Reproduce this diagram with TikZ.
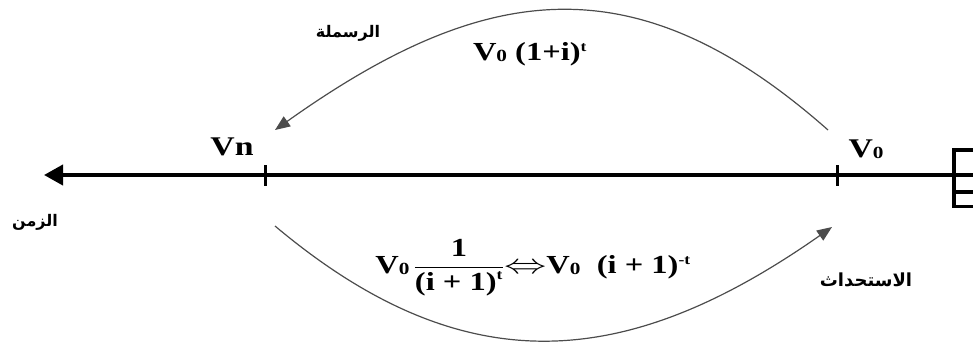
\documentclass[tikz,border=0pt]{standalone}
\usepackage{fontspec}
\setmainfont[FakeStretch=1.25]{Liberation Serif}
\newfontfamily\arabicfont[Script=Arabic]{DejaVu Sans}
\TeXXeTstate=1
\usetikzlibrary{arrows.meta}
\newcommand\zsub{\raisebox{-1pt}{\fontsize{17}{17}\selectfont\bfseries 0}}
\newcommand\supt[1]{$^{\mbox{\fontsize{14}{14}\selectfont\bfseries #1}}$}
\newcommand\dblarrow{\scalebox{1.7}[1.1]{$\Leftrightarrow$}}
\begin{document}
\begin{tikzpicture}[x=1pt,y=-1pt,
  lbl/.style={inner sep=0pt,font=\fontsize{27}{30}\selectfont\bfseries},
  frm/.style={inner sep=0pt,font=\fontsize{26}{30}\selectfont\bfseries},
  arb/.style={inner sep=0pt,font=\arabicfont\bfseries\fontsize{16}{18}\selectfont},
  axis/.style={line width=4pt,-{Triangle[length=19pt,width=20pt]}},
  tickmark/.style={line width=3pt},
  combline/.style={line width=3.5pt},
  arc/.style={line width=1.2pt,draw=black!70,-{Triangle[length=15pt,width=12pt]}}]
\useasboundingbox (0,0) rectangle (973,349);
% main axis
\coordinate (R) at (973,175);
\coordinate (L) at (44,175);
\draw[axis] (R) -- (L);
% ticks
\coordinate (tnT) at (265,165); \coordinate (tnB) at (265,186);
\coordinate (t0T) at (837,165); \coordinate (t0B) at (837,186);
\draw[tickmark] (tnT) -- (tnB);
\draw[tickmark] (t0T) -- (t0B);
% comb at right end
\coordinate (cT) at (954,148); \coordinate (cB) at (954,208);
\coordinate (c1) at (973,150); \coordinate (c1a) at (954,150);
\coordinate (c2) at (973,192); \coordinate (c2a) at (954,192);
\coordinate (c3) at (973,206.5); \coordinate (c3a) at (954,206.5);
\draw[combline] (cT) -- (cB);
\draw[combline] (c1a) -- (c1);
\draw[combline] (c2a) -- (c2);
\draw[combline] (c3a) -- (c3);
% labels
\node[lbl] (Vn) at (232,147) {Vn};
\node[lbl] (V0) at (866,149) {V\zsub};
\node[frm] (top) at (530,54) {V\zsub\ (1+i)\supt{t}};
\node[frm] (bot) at (533,268) {V\zsub\,$\displaystyle\frac{\mbox{\bfseries 1}}{\mbox{\bfseries (i + 1)}^{\mbox{\fontsize{14}{14}\selectfont\bfseries t}}}$\dblarrow V\zsub\ \ (i + 1)\supt{-t}};
\node[arb] (cap) at (348,33) {\beginR الرسملة\endR};
\node[arb] (time) at (35,222) {\beginR الزمن\endR};
\node[arb,font=\arabicfont\bfseries\fontsize{18}{20}\selectfont] (disc) at (866,280) {\beginR الاستحداث\endR};
% arcs
\coordinate (a1s) at (828,130); \coordinate (a1e) at (275,130);
\coordinate (a2s) at (275,226); \coordinate (a2e) at (832,227);
\draw[arc] (a1s) .. controls (635.6,-40) and (484.5,-19) .. (a1e);
\draw[arc] (a2s) .. controls (465.7,386.1) and (628.1,369.9) .. (a2e);
\end{tikzpicture}
\end{document}
